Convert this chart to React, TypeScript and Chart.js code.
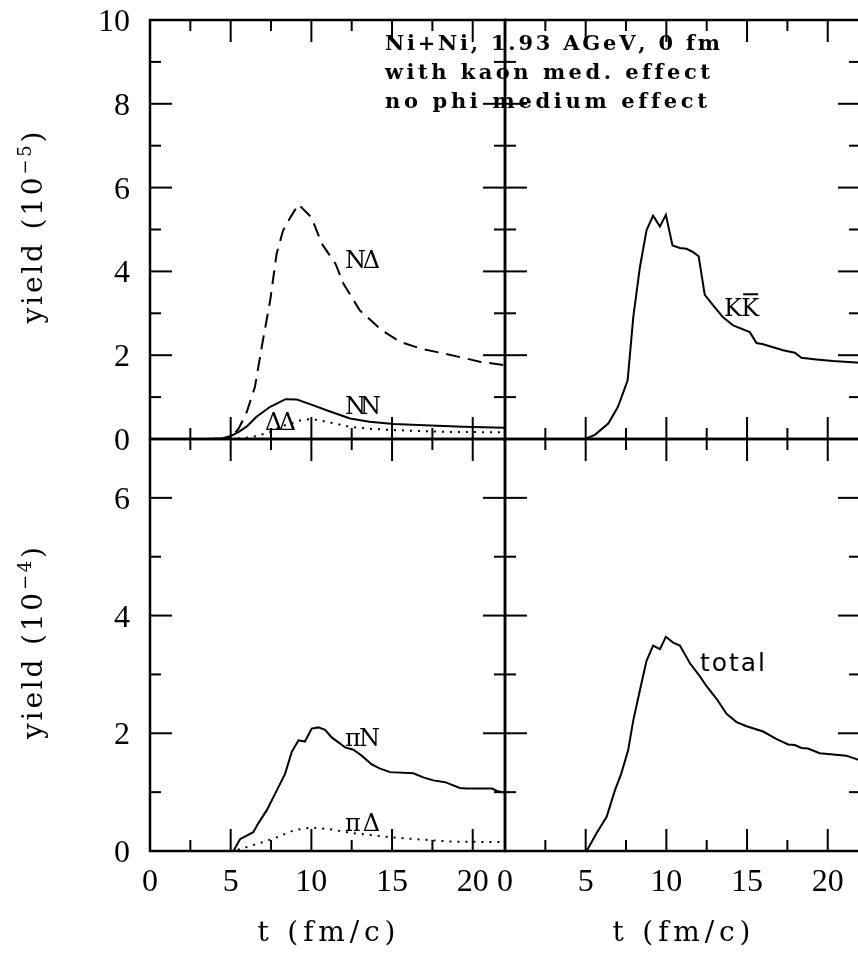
import React, { useEffect, useRef } from 'react';
import { Chart, registerables } from 'chart.js';

Chart.register(...registerables);

// ---------------- data ----------------
const X_MAX = 22;
const X_MAJOR = [0, 5, 10, 15, 20];
const X_MINOR = [2.5, 7.5, 12.5, 17.5];
const X_TICK_LABELS = ['0', '5', '10', '15', '20'];

const TOP_Y_MAX = 10;
const TOP_Y_MAJOR = [0, 2, 4, 6, 8, 10];
const TOP_Y_MINOR = [1, 3, 5, 7, 9];
const TOP_Y_LABELS = ['0', '2', '4', '6', '8', '10'];

const BOT_Y_MAX = 7;
const BOT_Y_MAJOR = [0, 2, 4, 6];
const BOT_Y_MINOR = [1, 3, 5, 7];
const BOT_Y_LABELS = ['0', '2', '4', '6'];

// top-left (10^-5)
const T_NDELTA = [0, 4.5, 5.0, 5.5, 6.0, 6.5, 7.0, 7.45, 7.85, 8.25, 8.7, 9.2, 10.0, 10.65, 11.5, 12.0, 13.0, 14.35, 15.5, 16.75, 18.2, 19.6, 20.5, 22.0];
const Y_NDELTA = [0, 0, 0.03, 0.25, 0.65, 1.24, 2.36, 3.31, 4.43, 4.98, 5.29, 5.6, 5.29, 4.66, 4.18, 3.7, 3.07, 2.6, 2.32, 2.16, 2.04, 1.92, 1.84, 1.76];

const T_NN = [0, 3.5, 4.5, 5.0, 5.5, 6.0, 6.6, 7.45, 8.4, 9.1, 10.0, 11.2, 12.4, 13.6, 15.1, 17.4, 19.4, 22];
const Y_NN = [0, 0, 0.02, 0.07, 0.17, 0.3, 0.53, 0.77, 0.95, 0.94, 0.82, 0.65, 0.49, 0.41, 0.36, 0.32, 0.29, 0.27];

const T_DD = [0, 5.0, 6.0, 6.6, 7.45, 8.3, 9.3, 10.0, 11.2, 12.4, 13.8, 15.3, 18.4, 22];
const Y_DD = [0, 0, 0.03, 0.07, 0.17, 0.32, 0.44, 0.48, 0.39, 0.29, 0.24, 0.21, 0.17, 0.16];

// top-right (10^-5)
const T_KK = [0, 4.95, 5.57, 6.4, 7.0, 7.6, 7.95, 8.36, 8.77, 9.18, 9.6, 9.97, 10.38, 10.84, 11.25, 11.66, 12.0, 12.38, 12.9, 13.5, 14.14, 15.17, 15.59, 16.0, 17.23, 17.96, 18.37, 19.3, 20.33, 22];
const Y_KK = [0, 0, 0.1, 0.37, 0.77, 1.4, 2.91, 4.1, 4.98, 5.33, 5.07, 5.35, 4.62, 4.56, 4.54, 4.46, 4.36, 3.44, 3.19, 2.91, 2.71, 2.55, 2.29, 2.26, 2.12, 2.06, 1.94, 1.9, 1.86, 1.82];

// bottom-left (10^-4)
const T_PIN = [0, 5.17, 5.58, 6.4, 6.71, 7.23, 7.75, 8.37, 8.78, 9.2, 9.6, 10.02, 10.43, 10.85, 11.26, 12.09, 12.6, 13.12, 13.74, 14.26, 14.88, 16.32, 16.94, 17.56, 18.29, 19.2, 19.6, 21.2, 21.5, 22];
const Y_PIN = [0, 0, 0.2, 0.32, 0.47, 0.69, 0.97, 1.31, 1.68, 1.88, 1.86, 2.08, 2.1, 2.06, 1.93, 1.76, 1.72, 1.62, 1.47, 1.4, 1.34, 1.32, 1.25, 1.2, 1.17, 1.07, 1.06, 1.06, 1.02, 0.99];

const T_PID = [0, 5.2, 6.4, 7.65, 8.9, 10.0, 11.16, 12.4, 14.7, 16.5, 18.6, 22];
const Y_PID = [0, 0, 0.1, 0.21, 0.35, 0.4, 0.37, 0.31, 0.24, 0.2, 0.16, 0.15];

// bottom-right (10^-4)
const T_TOTAL = [0, 5.06, 5.67, 6.3, 6.81, 7.2, 7.63, 7.95, 8.36, 8.77, 9.18, 9.6, 9.97, 10.42, 10.84, 11.46, 12.07, 12.49, 13.1, 13.73, 14.35, 14.97, 16.0, 16.83, 17.55, 17.96, 18.37, 18.78, 19.5, 21.15, 22];
const Y_TOTAL = [0, 0, 0.3, 0.58, 1.03, 1.31, 1.71, 2.22, 2.73, 3.23, 3.49, 3.43, 3.64, 3.54, 3.49, 3.19, 2.97, 2.8, 2.59, 2.33, 2.19, 2.12, 2.03, 1.9, 1.81, 1.8, 1.75, 1.74, 1.66, 1.62, 1.54];

const ANNOTATION_LINES = ['Ni+Ni, 1.93 AGeV, 0 fm', 'with kaon med. effect', 'no phi medium effect'];
const Y_TITLE_TOP = ['yield (10', '\u22125', ')'];
const Y_TITLE_BOT = ['yield (10', '\u22124', ')'];
const X_TITLE = 't (fm/c)';

// ---------------- layout / style ----------------
const CANVAS_W = 870;
const CANVAS_H = 962;
const SERIF = '"Liberation Serif", "DejaVu Serif", serif';
const DSERIF = '"DejaVu Serif", "Liberation Serif", serif';
const SANS = '"DejaVu Sans", "Liberation Sans", sans-serif';

type Seg = { text: string; font: string; dy?: number };

function drawSegs(
  ctx: CanvasRenderingContext2D,
  segs: Seg[],
  x: number,
  y: number,
  width: number | null,
  align: 'left' | 'center' | 'right'
): number[] {
  const chars: { ch: string; font: string; dy: number; w: number }[] = [];
  let natural = 0;
  for (const s of segs) {
    ctx.font = s.font;
    for (const ch of Array.from(s.text)) {
      const w = ctx.measureText(ch).width;
      chars.push({ ch, font: s.font, dy: s.dy || 0, w });
      natural += w;
    }
  }
  const n = chars.length;
  const sp = width != null && n > 1 ? (width - natural) / (n - 1) : 0;
  const total = natural + sp * (n - 1);
  let cx = align === 'left' ? x : align === 'center' ? x - total / 2 : x - total;
  const pos: number[] = [];
  ctx.textAlign = 'left';
  ctx.textBaseline = 'alphabetic';
  for (const c of chars) {
    ctx.font = c.font;
    ctx.fillText(c.ch, cx, y + c.dy);
    pos.push(cx, c.w);
    cx += c.w + sp;
  }
  return pos;
}

interface SeriesDef { t: number[]; y: number[]; dash: number[] }
interface LabelDef {
  text: string; t: number; v: number; width: number; font: string; cap: number;
  align: 'left' | 'center'; bar?: boolean;
}
interface PanelDef {
  area: { left: number; top: number; right: number; bottom: number };
  yMax: number; yMajor: number[]; yMinor: number[];
  yLabels?: string[]; yTickValues?: number[];
  xLabels?: boolean;
  yTitle?: string[];
  xTitle?: boolean;
  series: SeriesDef[];
  labels: LabelDef[];
  annotation?: boolean;
}

const LABEL_FONT = `24px ${DSERIF}`;
const LABEL_CAP = 17.5;

const PANELS: PanelDef[] = [
  {
    area: { left: 150, top: 20, right: 505, bottom: 439 },
    yMax: TOP_Y_MAX, yMajor: TOP_Y_MAJOR, yMinor: TOP_Y_MINOR,
    yLabels: TOP_Y_LABELS, yTickValues: TOP_Y_MAJOR,
    yTitle: Y_TITLE_TOP,
    series: [
      { t: T_NDELTA, y: Y_NDELTA, dash: [14, 8] },
      { t: T_NN, y: Y_NN, dash: [] },
      { t: T_DD, y: Y_DD, dash: [2, 6] },
    ],
    labels: [
      { text: 'N\u0394', t: 13.17, v: 4.3, width: 35, font: LABEL_FONT, cap: LABEL_CAP, align: 'center' },
      { text: 'NN', t: 13.2, v: 0.81, width: 36, font: LABEL_FONT, cap: LABEL_CAP, align: 'center' },
      { text: '\u0394\u0394', t: 8.09, v: 0.43, width: 31, font: LABEL_FONT, cap: LABEL_CAP, align: 'center' },
    ],
    annotation: true,
  },
  {
    area: { left: 505, top: 20, right: 860, bottom: 439 },
    yMax: TOP_Y_MAX, yMajor: TOP_Y_MAJOR, yMinor: TOP_Y_MINOR,
    series: [{ t: T_KK, y: Y_KK, dash: [] }],
    labels: [
      { text: 'KK', t: 14.66, v: 3.15, width: 35, font: LABEL_FONT, cap: LABEL_CAP, align: 'center', bar: true },
    ],
  },
  {
    area: { left: 150, top: 439, right: 505, bottom: 851 },
    yMax: BOT_Y_MAX, yMajor: BOT_Y_MAJOR, yMinor: BOT_Y_MINOR,
    yLabels: BOT_Y_LABELS, yTickValues: BOT_Y_MAJOR,
    xLabels: true, xTitle: true,
    yTitle: Y_TITLE_BOT,
    series: [
      { t: T_PIN, y: Y_PIN, dash: [] },
      { t: T_PID, y: Y_PID, dash: [2, 6] },
    ],
    labels: [
      { text: '\u03C0N', t: 13.17, v: 1.94, width: 35, font: LABEL_FONT, cap: LABEL_CAP, align: 'center' },
      { text: '\u03C0\u0394', t: 13.17, v: 0.49, width: 35, font: LABEL_FONT, cap: LABEL_CAP, align: 'center' },
    ],
  },
  {
    area: { left: 505, top: 439, right: 860, bottom: 851 },
    yMax: BOT_Y_MAX, yMajor: BOT_Y_MAJOR, yMinor: BOT_Y_MINOR,
    xLabels: true, xTitle: true,
    series: [{ t: T_TOTAL, y: Y_TOTAL, dash: [] }],
    labels: [
      { text: 'total', t: 14.1, v: 3.21, width: 65, font: `25px ${SANS}`, cap: 18, align: 'center' },
    ],
  },
];

const MAJOR_LEN = 22;
const MINOR_LEN = 11;
const TICK_FONT = `32px ${SERIF}`;
const TITLE_FONT = `28px ${DSERIF}`;
const SUP_FONT = `18px ${DSERIF}`;
const ANNOT_FONT = `bold 21px ${DSERIF}`;

function makeDecor(p: PanelDef) {
  return {
    id: 'panelDecor',
    afterDatasetsDraw(chart: any) {
      const ctx: CanvasRenderingContext2D = chart.ctx;
      const xs = chart.scales.x;
      const ys = chart.scales.y;
      const { left, right, top, bottom } = chart.chartArea;
      ctx.save();
      ctx.strokeStyle = '#000';
      ctx.fillStyle = '#000';
      ctx.setLineDash([]);
      ctx.lineCap = 'butt';
      // frame
      ctx.lineWidth = 2.5;
      ctx.strokeRect(left, top, right - left, bottom - top);
      // ticks
      ctx.lineWidth = 2;
      const seg = (x1: number, y1: number, x2: number, y2: number) => {
        ctx.beginPath(); ctx.moveTo(x1, y1); ctx.lineTo(x2, y2); ctx.stroke();
      };
      const xt = (vals: number[], len: number) => vals.forEach((v) => {
        const px = xs.getPixelForValue(v);
        seg(px, bottom, px, bottom - len);
        seg(px, top, px, top + len);
      });
      const yt = (vals: number[], len: number) => vals.forEach((v) => {
        const py = ys.getPixelForValue(v);
        seg(left, py, left + len, py);
        seg(right, py, right - len, py);
      });
      xt(X_MAJOR, MAJOR_LEN); xt(X_MINOR, MINOR_LEN);
      yt(p.yMajor, MAJOR_LEN); yt(p.yMinor, MINOR_LEN);

      // y tick labels
      if (p.yLabels && p.yTickValues) {
        p.yTickValues.forEach((v, i) => {
          const py = ys.getPixelForValue(v);
          drawSegs(ctx, [{ text: p.yLabels![i], font: TICK_FONT }], left - 20, py + 11, null, 'right');
        });
      }
      // x tick labels
      if (p.xLabels) {
        X_MAJOR.forEach((v, i) => {
          const px = xs.getPixelForValue(v);
          drawSegs(ctx, [{ text: X_TICK_LABELS[i], font: TICK_FONT }], px, bottom + 40, null, 'center');
        });
      }
      // x title
      if (p.xTitle) {
        const cx = (left + right) / 2;
        drawSegs(ctx, [{ text: X_TITLE, font: TITLE_FONT }], cx - 1, bottom + 90, 138, 'center');
      }
      // y title
      if (p.yTitle) {
        const cy = (top + bottom) / 2 - 2;
        ctx.save();
        ctx.translate(35, cy);
        ctx.rotate(-Math.PI / 2);
        drawSegs(ctx, [
          { text: p.yTitle[0], font: TITLE_FONT },
          { text: p.yTitle[1], font: SUP_FONT, dy: -11 },
          { text: p.yTitle[2], font: TITLE_FONT },
        ], 0, 7, 192, 'center');
        ctx.restore();
      }
      // curve labels
      p.labels.forEach((l) => {
        const px = xs.getPixelForValue(l.t);
        const py = ys.getPixelForValue(l.v);
        const base = py + l.cap / 2;
        const pos = drawSegs(ctx, [{ text: l.text, font: l.font }], px, base, l.width, l.align);
        if (l.bar) {
          const x0 = pos[2];
          const w = pos[3];
          ctx.lineWidth = 2;
          seg(x0 + 2, base - l.cap - 4, x0 + w - 1, base - l.cap - 4);
        }
      });
      // annotation
      if (p.annotation) {
        const ax = xs.getPixelForValue(14.56);
        const bases = [9.28, 8.59, 7.9];
        const widths = [335, 325, 322];
        ANNOTATION_LINES.forEach((txt, i) => {
          drawSegs(ctx, [{ text: txt, font: ANNOT_FONT }], ax, ys.getPixelForValue(bases[i]), widths[i], 'left');
        });
      }
      ctx.restore();
    },
  };
}

function buildConfig(p: PanelDef): any {
  return {
    type: 'line',
    data: {
      datasets: p.series.map((s) => ({
        data: s.t.map((t, i) => ({ x: t, y: s.y[i] })),
        borderColor: '#000',
        borderWidth: 2,
        borderDash: s.dash,
        borderCapStyle: 'butt',
        pointRadius: 0,
        tension: 0,
        fill: false,
      })),
    },
    options: {
      responsive: false,
      animation: false,
      devicePixelRatio: 1,
      events: [],
      layout: {
        padding: {
          left: p.area.left,
          top: p.area.top,
          right: CANVAS_W - p.area.right,
          bottom: CANVAS_H - p.area.bottom,
        },
      },
      plugins: { legend: { display: false }, tooltip: { enabled: false } },
      scales: {
        x: { type: 'linear', min: 0, max: X_MAX, display: false },
        y: { type: 'linear', min: 0, max: p.yMax, display: false },
      },
    },
    plugins: [makeDecor(p)],
  };
}

export default function App() {
  const refs = useRef<(HTMLCanvasElement | null)[]>([]);
  useEffect(() => {
    document.body.style.margin = '0';
    document.body.style.background = '#fff';
    const charts = PANELS.map((p, i) => new Chart(refs.current[i] as HTMLCanvasElement, buildConfig(p)));
    return () => charts.forEach((c) => c.destroy());
  }, []);
  return (
    <div style={{ position: 'relative', width: 858, height: 962, overflow: 'hidden', background: '#fff' }}>
      {PANELS.map((_, i) => (
        <canvas
          key={i}
          ref={(el) => { refs.current[i] = el; }}
          width={CANVAS_W}
          height={CANVAS_H}
          style={{ position: 'absolute', left: 0, top: 0, width: CANVAS_W, height: CANVAS_H }}
        />
      ))}
    </div>
  );
}
